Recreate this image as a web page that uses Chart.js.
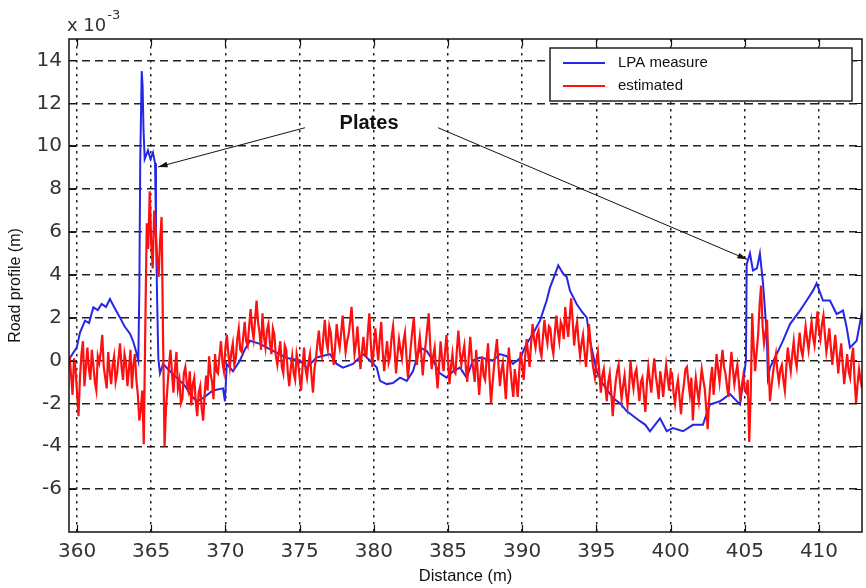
<!DOCTYPE html>
<html>
<head>
<meta charset="utf-8">
<title>Road profile</title>
<script src="https://cdn.jsdelivr.net/npm/chart.js@4/dist/chart.umd.min.js"></script>
<style>
    body { margin: 0; background: #fff; }
    canvas { display: block; }
</style>
</head>
<body>
<canvas id="profileChart" width="866" height="588"></canvas>
<script>
// axis ticks (road profile in units of 1e-3 m)
const xTicks = [360, 365, 370, 375, 380, 385, 390, 395, 400, 405, 410];
const yTicks = [-6, -4, -2, 0, 2, 4, 6, 8, 10, 12, 14];

// LPA measurement: distance (m) / profile (x 1e-3 m)
const lpaX = [
    359.41, 359.98, 360.2, 360.54, 360.81, 361.1, 361.4, 361.66, 361.95, 362.22,
    362.5, 362.9, 363.2, 363.57, 363.77, 363.95, 364.13, 364.2, 364.26, 364.36,
    364.42, 364.48, 364.56, 364.78, 364.95, 365.12, 365.26, 365.32, 365.4, 365.48,
    365.59, 365.8, 366.27, 366.94, 367.3, 367.61, 368.07, 368.49, 369.16, 369.84,
    369.97, 370.09, 370.51, 370.98, 371.3, 371.66, 372.33, 372.8, 373.21, 374.15,
    375.03, 375.48, 376.15, 377.05, 377.5, 377.92, 378.6, 379.27, 379.74, 380.2,
    380.42, 380.87, 381.29, 381.77, 382.22, 382.64, 383.11, 383.56, 383.99, 384.46,
    384.91, 385.34, 385.81, 386.26, 386.68, 387.16, 388.03, 388.5, 388.96, 389.38,
    389.85, 390.3, 390.73, 391.2, 391.65, 391.87, 392.2, 392.43, 392.75, 393.0,
    393.22, 393.67, 394.0, 394.35, 394.57, 395.02, 395.44, 396.12, 396.6, 397.04,
    397.5, 397.94, 398.3, 398.61, 399.29, 399.74, 400.16, 400.84, 401.51, 402.18,
    402.65, 403.33, 404.0, 404.68, 405.08, 405.13, 405.35, 405.55, 405.82, 406.02,
    406.23, 406.48, 406.56, 406.7, 407.15, 407.57, 408.05, 408.72, 409.17, 409.6,
    409.84, 410.27, 410.74, 411.19, 411.62, 411.87, 412.09, 412.54, 412.96
];
const lpaY = [
    0.0, 0.6, 1.3, 1.86, 1.75, 2.48, 2.35, 2.64, 2.5, 2.87,
    2.5, 2.0, 1.6, 1.25, 0.92, 0.5, 0.0, 3.26, 9.3, 13.5,
    12.8, 10.8, 9.4, 9.8, 9.4, 9.7, 9.2, 6.1, 2.8, 0.1,
    -0.6, -0.16, -0.5, -0.95, -1.2, -1.57, -1.9, -1.75, -1.4, -1.3,
    -1.9, -0.16, -0.5, 0.0, 0.5, 0.92, 0.78, 0.6, 0.45, 0.12,
    0.0, -0.33, 0.14, 0.3, -0.16, -0.33, -0.16, 0.3, 0.0, -0.33,
    -0.95, -1.1, -1.05, -0.8, -0.95, -0.5, 0.6, 0.45, 0.0, -0.6,
    -0.8, -0.5, -0.33, -0.8, 0.0, 0.14, 0.0, 0.3, 0.2, -0.16,
    0.1, 0.78, 1.25, 1.86, 2.8, 3.4, 4.0, 4.44, 4.06, 3.9,
    3.26, 2.64, 2.3, 2.0, 0.92, -0.5, -1.1, -1.75, -2.0, -2.36,
    -2.6, -2.83, -3.0, -3.3, -2.7, -3.3, -3.15, -3.3, -3.0, -3.0,
    -2.05, -1.9, -1.57, -2.05, 0.0, 4.5, 5.0, 4.2, 4.3, 5.0,
    3.6, 1.25, -0.8, -0.33, 0.3, 0.92, 1.7, 2.33, 2.8, 3.26,
    3.6, 2.8, 2.8, 2.17, 2.33, 1.53, 0.6, 0.92, 2.5
];

// estimated profile, sampled every 0.1 m from 359.5 m (one row per metre)
const estStart = 359.5;
const estStep = 0.1;
const estY = [
    0.2, -0.7, -1.6, 0.1, -0.4, -1.5, -2.6, -0.8, 0.3, 0.9, -1.2, -0.3, 0.6, -0.4, -0.9, 0.5, -0.2, -1.0, -1.4, 0.2,
    -0.1, 0.4, 1.2, -0.3, -0.8, -1.3, 0.4, -0.5, -1.1, -0.2, 0.2, -1.0, -0.6, 0.1, 0.8, -0.3, -0.9, 0.3, -0.1, -1.2,
    -0.4, 0.5, -1.3, -0.2, 0.3, -0.9, -1.6, -2.8, -2.3, -1.4, -3.9, 1.5, 6.4, 5.2, 7.9, 5.5, 4.3, 7.0, 6.0, 4.8,
    3.9, 5.6, 6.7, 1.0, -4.0, -2.2, -1.2, -0.2, 0.5, -0.6, -1.5, -0.4, 0.4, -1.3, -0.9, -2.0, -1.8, -0.6, -0.3, -1.1,
    -1.4, -0.5, -2.1, -1.1, -0.8, -1.9, -2.6, -1.5, -1.2, -2.2, -2.8, -1.6, -0.7, -1.4, 0.2, -0.6, -1.0, -1.8, 0.3, -0.5,
    -0.6, 0.2, 0.9, -0.1, -0.5, 0.6, 1.2, 0.3, -0.3, 0.4, 0.8, -0.2, 0.1, 1.0, 1.5, 0.5, 0.4, 1.1, 1.8, 0.9,
    0.7, 1.6, 2.4, 1.5, 1.0, 1.9, 2.8, 1.8, 1.3, 0.5, 2.2, 1.1, 0.6, 1.4, 1.7, 0.8, 0.3, 1.5, 1.2, 0.2,
    -0.2, 0.4, 0.9, -0.3, -0.6, 0.7, 0.5, -0.5, -1.2, -0.4, 0.2, -0.6, -0.9, 0.3, -0.1, -0.8, -1.4, -0.3, 0.6, -0.4,
    -0.8, -0.1, 0.3, -0.7, -1.5, -0.4, 0.1, 0.8, 1.4, 0.5, 0.2, 1.1, 1.9, 0.9, 0.5, 1.6, 1.3, 0.4, -0.2, 0.7,
    1.7, 1.0, 0.6, 1.3, 2.1, 1.2, 0.4, 0.9, 1.2, 1.8, 2.5, 1.4, 0.3, 0.8, 1.6, 0.5, -0.4, 0.4, 1.1, 0.3,
    0.2, 1.3, 2.2, 0.8, -0.3, 0.6, 1.5, 0.7, 0.0, 1.0, 1.8, 0.4, -0.5, 0.3, 0.9, -0.1, 0.2, 1.1, 1.6, 0.5,
    -0.6, 0.3, 1.0, 0.5, 0.1, 0.9, 1.3, 0.2, -0.8, -0.1, 0.7, 1.4, 2.0, 0.6, -0.2, 0.5, 1.1, 0.3, -0.7, 0.2,
    0.8, 1.5, 2.2, 0.7, -0.4, 0.2, 0.6, -0.5, -1.3, -0.2, 0.9, 0.1, -0.5, 0.4, 1.2, 0.0, -1.1, -0.3, 0.3, -0.5,
    -0.6, 0.5, 1.4, 0.4, -0.2, 0.3, 0.7, -0.3, -1.0, 0.2, 1.1, 0.1, -0.4, -1.0, 0.5, -0.5, -1.6, -0.6, 0.2, -0.7,
    -0.9, 0.0, 0.8, -0.8, -2.0, -1.1, -0.3, 0.4, 1.0, -0.2, -1.2, -0.5, -0.1, -0.9, -1.8, -0.4, 0.6, -0.3, -1.1, -1.7,
    -0.4, -1.0, -1.7, -0.5, 0.4, -0.2, -0.9, 0.2, 1.0, 0.3, -0.3, 0.8, 1.7, 1.0, 0.6, 1.2, 1.4, 0.5, 0.2, 1.1,
    1.9, 1.2, 0.8, 1.6, 1.5, 0.7, 0.3, 1.3, 2.1, 1.4, 0.9, 1.8, 1.6, 1.0, 2.5, 1.7, 1.1, 2.0, 2.9, 1.9,
    0.7, 1.4, 1.8, 0.9, 0.2, 0.8, 1.2, 0.4, -0.3, 0.6, 1.7, 0.9, 0.1, -0.4, -0.8, 0.0, 0.4, -0.6, -1.5, -0.7,
    -0.4, -1.2, -1.9, -1.0, -0.6, -1.5, -2.6, -1.7, -1.0, -0.5, -0.2, -1.1, -1.8, -1.2, -0.7, -1.5, -2.1, -1.3, 0.0, -0.8,
    -1.3, -0.6, -0.4, -1.2, -1.9, -1.0, -0.8, -1.6, -2.4, -1.1, -0.3, -0.9, -1.5, -0.6, 0.1, -0.7, -1.2, -1.8, -0.5, -1.0,
    -1.7, -0.9, -0.2, -0.8, -1.4, -0.5, -0.6, -1.5, -2.0, -1.3, -0.9, -1.7, -2.5, -1.6, -1.1, -0.4, -0.3, -1.0, -1.6, -0.8,
    -2.8, -1.6, -0.8, -1.4, -1.9, -1.1, -0.4, -0.9, -1.3, -2.2, -3.2, -1.8, -0.9, -0.3, -1.6, -0.7, 0.3, -0.4, -1.0, -0.2,
    0.5, -0.3, -0.6, -1.2, -1.7, -0.5, 0.4, -0.4, -1.1, -0.6, -0.2, -1.0, -1.9, -1.2, -0.7, -1.4, -1.5, -0.9, -3.8, -1.6,
    2.2, 0.6, -0.5, 0.4, 1.2, 2.6, 3.5, 1.6, 0.8, 1.3, 1.9, -0.2, -1.9, -1.2, -0.6, -0.1, 0.3, -0.5, -1.0, -0.4,
    -0.2, -0.9, -1.4, -0.3, 0.6, 0.0, -0.5, 0.3, 0.9, 0.1, -0.3, 0.6, 1.3, 0.5, 0.2, 0.9, 1.6, 1.0, 0.5, 1.2,
    1.8, 1.1, 0.7, 1.5, 2.3, 1.4, 1.0, 1.7, 2.1, 1.2, 0.4, 0.9, 1.5, 0.6, -0.2, 0.5, 1.2, 0.3, -0.6, 0.2,
    0.8, -0.2, -1.1, -0.4, 0.3, -0.5, -0.8, 0.1, 0.6, -0.9, -2.0, -1.1, -0.4, -0.9, -1.3, -0.5, -0.7
];

// "Plates" callout: label position and arrows, in data units
const plateLabel = { x: 379.68, y: 11.05, text: 'Plates' };
const plateArrows = [
    { from: [375.36, 10.86], to: [365.46, 9.03] },
    { from: [384.33, 10.86], to: [405.15, 4.72] }
];

const seriesNames = ['LPA measure', 'estimated'];
const blue = '#2626e6';
const red = '#ff1010';

const lpaPoints = lpaX.map((x, i) => ({ x: x, y: lpaY[i] }));
const estPoints = estY.map((y, i) => ({ x: estStart + i * estStep, y: y }));

function drawArrow(ctx, x1, y1, x2, y2) {
    const angle = Math.atan2(y2 - y1, x2 - x1);
    const head = 10;
    ctx.beginPath();
    ctx.moveTo(x1, y1);
    ctx.lineTo(x2, y2);
    ctx.stroke();
    ctx.beginPath();
    ctx.moveTo(x2, y2);
    ctx.lineTo(x2 - head * Math.cos(angle - 0.3), y2 - head * Math.sin(angle - 0.3));
    ctx.lineTo(x2 - head * Math.cos(angle + 0.3), y2 - head * Math.sin(angle + 0.3));
    ctx.closePath();
    ctx.fill();
}

// frame, inner tick marks, exponent, legend box and the callout
const decorations = {
    id: 'decorations',
    afterDraw(chart) {
        const { ctx, chartArea: area, scales: { x, y } } = chart;
        ctx.save();

        ctx.strokeStyle = '#111';
        ctx.lineWidth = 1.5;
        ctx.strokeRect(area.left, area.top, area.right - area.left, area.bottom - area.top);

        ctx.lineWidth = 1.2;
        ctx.beginPath();
        for (const v of xTicks) {
            const px = Math.round(x.getPixelForValue(v)) + 0.5;
            ctx.moveTo(px, area.bottom); ctx.lineTo(px, area.bottom - 7);
            ctx.moveTo(px, area.top); ctx.lineTo(px, area.top + 7);
        }
        for (const v of yTicks) {
            const py = Math.round(y.getPixelForValue(v)) + 0.5;
            ctx.moveTo(area.left, py); ctx.lineTo(area.left + 7, py);
            ctx.moveTo(area.right, py); ctx.lineTo(area.right - 7, py);
        }
        ctx.stroke();

        // exponent above the y axis
        ctx.fillStyle = '#333';
        ctx.textBaseline = 'alphabetic';
        ctx.textAlign = 'left';
        ctx.font = '18px "DejaVu Sans"';
        ctx.fillText('x 10', area.left - 2, 31);
        const w = ctx.measureText('x 10').width;
        ctx.font = '13px "DejaVu Sans"';
        ctx.fillText('-3', area.left - 2 + w + 1, 19);

        // legend
        const bx = area.right - 312;
        const by = area.top + 9;
        ctx.fillStyle = '#fff';
        ctx.fillRect(bx, by, 302, 53);
        ctx.strokeStyle = '#222';
        ctx.lineWidth = 1.5;
        ctx.strokeRect(bx, by, 302, 53);
        const colors = [blue, red];
        ctx.font = '15px "Liberation Sans", Arial';
        ctx.textBaseline = 'middle';
        seriesNames.forEach((name, i) => {
            const ly = by + 15 + i * 23;
            ctx.strokeStyle = colors[i];
            ctx.lineWidth = 2;
            ctx.beginPath();
            ctx.moveTo(bx + 13, ly);
            ctx.lineTo(bx + 55, ly);
            ctx.stroke();
            ctx.fillStyle = '#111';
            ctx.fillText(name, bx + 68, ly);
        });

        // plates callout
        ctx.strokeStyle = '#111';
        ctx.fillStyle = '#111';
        ctx.lineWidth = 1;
        for (const a of plateArrows) {
            drawArrow(ctx,
                x.getPixelForValue(a.from[0]), y.getPixelForValue(a.from[1]),
                x.getPixelForValue(a.to[0]), y.getPixelForValue(a.to[1]));
        }
        ctx.font = 'bold 20px "Liberation Sans", Arial';
        ctx.textAlign = 'center';
        ctx.textBaseline = 'middle';
        ctx.fillText(plateLabel.text, x.getPixelForValue(plateLabel.x), y.getPixelForValue(plateLabel.y));

        ctx.restore();
    }
};

var ctx = document.getElementById('profileChart').getContext('2d');

var profileChart = new Chart(ctx, { // eslint-disable-line
    type: 'line',
    data: {
        datasets: [{
            label: seriesNames[1],
            data: estPoints,
            borderColor: red,
            borderWidth: 2.2,
            pointRadius: 0,
            tension: 0,
            order: 1
        },
        {
            label: seriesNames[0],
            data: lpaPoints,
            borderColor: blue,
            borderWidth: 2,
            pointRadius: 0,
            tension: 0,
            order: 2
        }]
    },
    options: {
        responsive: false,
        animation: false,
        events: [],
        layout: { padding: { top: 39, right: 4, left: 0, bottom: 0 } },
        plugins: {
            legend: { display: false },
            tooltip: { enabled: false }
        },
        scales: {
            x: {
                type: 'linear',
                min: 359.46,
                max: 412.9,
                afterBuildTicks: (scale) => { scale.ticks = xTicks.map(v => ({ value: v })); },
                afterFit: (scale) => { scale.height = 56; },
                grid: { color: '#222', lineWidth: 1.5, drawTicks: false },
                border: { display: false, dash: [2.5, 4.5] },
                ticks: {
                    autoSkip: false,
                    maxRotation: 0,
                    padding: 8,
                    color: '#333',
                    font: { family: 'DejaVu Sans', size: 20 }
                },
                title: {
                    display: true,
                    text: 'Distance (m)',
                    color: '#111',
                    font: { family: 'Liberation Sans', size: 16.5 },
                    padding: { top: 0, bottom: 2 }
                }
            },
            y: {
                min: -8,
                max: 15,
                afterBuildTicks: (scale) => { scale.ticks = yTicks.map(v => ({ value: v })); },
                afterFit: (scale) => { scale.width = 69; },
                grid: { color: '#222', lineWidth: 1.5, drawTicks: false },
                border: { display: false, dash: [8, 5] },
                ticks: {
                    padding: 7,
                    color: '#333',
                    font: { family: 'DejaVu Sans', size: 20 }
                },
                title: {
                    display: true,
                    text: 'Road profile (m)',
                    color: '#111',
                    font: { family: 'Liberation Sans', size: 16 },
                    padding: { top: 6, bottom: 0 }
                }
            }
        }
    },
    plugins: [decorations]
});
</script>
</body>
</html>
